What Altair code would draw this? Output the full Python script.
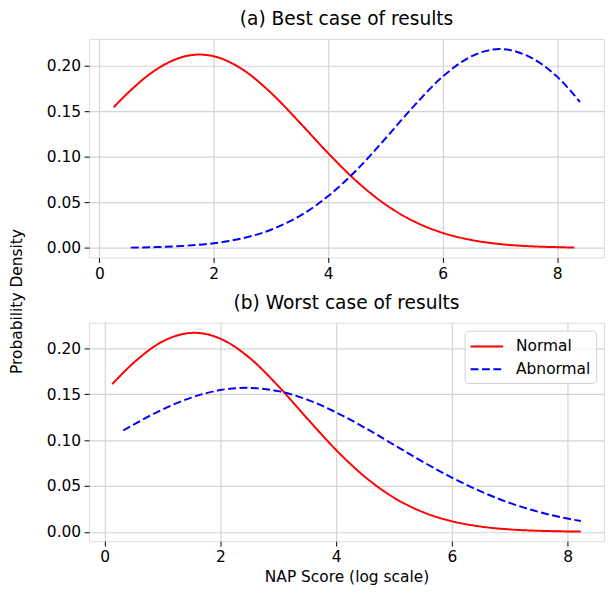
import altair as alt
import pandas as pd

FONT = "DejaVu Sans"

# Panel (a) Best case
a_normal_x = [0.25, 0.5, 1.0, 1.5, 1.75, 2.0, 2.5, 3.0, 3.5, 4.0, 4.5, 5.0, 5.5, 6.0, 6.5, 7.0, 7.5, 8.0, 8.3]
a_normal_y = [0.1543, 0.1700, 0.1958, 0.2101, 0.2120, 0.2101, 0.1958, 0.1700, 0.1376, 0.1038, 0.0729, 0.0477,
              0.0291, 0.0166, 0.0088, 0.0043, 0.0020, 0.0009, 0.0005]
a_abn_x = [0.55, 1.0, 1.5, 2.0, 2.5, 3.0, 3.5, 4.0, 4.5, 5.0, 5.5, 6.0, 6.5, 7.0, 7.5, 8.0, 8.4]
a_abn_y = [0.0004, 0.0010, 0.0024, 0.0052, 0.0106, 0.0200, 0.0350, 0.0569, 0.0857, 0.1200, 0.1558, 0.1878,
           0.2100, 0.2180, 0.2100, 0.1878, 0.1600]

# Panel (b) Worst case
b_normal_x = [0.13, 0.5, 1.0, 1.55, 2.0, 2.5, 3.0, 3.5, 4.0, 4.5, 5.0, 5.5, 6.0, 6.5, 7.0, 7.5, 8.0, 8.23]
b_normal_y = [0.1610, 0.1843, 0.2075, 0.2170, 0.2106, 0.1899, 0.1590, 0.1236, 0.0893, 0.0599, 0.0373, 0.0216,
              0.0116, 0.0058, 0.0027, 0.0012, 0.0005, 0.0003]
b_abn_x = [0.32, 0.5, 1.0, 1.5, 2.0, 2.45, 3.0, 3.5, 4.0, 4.5, 5.0, 5.5, 6.0, 6.5, 7.0, 7.5, 8.0, 8.23]
b_abn_y = [0.1105, 0.1169, 0.1334, 0.1464, 0.1546, 0.1570, 0.1534, 0.1442, 0.1303, 0.1134, 0.0949, 0.0764,
           0.0592, 0.0441, 0.0316, 0.0218, 0.0145, 0.0118]

series_names = ["Normal", "Abnormal"]
series_colors = ["#ff0000", "#0000ff"]
x_ticks = [0, 2, 4, 6, 8]
y_ticks = [0.0, 0.05, 0.10, 0.15, 0.20]


def frame(xs, ys, name):
    return pd.DataFrame({"x": xs, "y": ys, "series": name, "order": list(range(len(xs)))})


df_a = pd.concat([frame(a_normal_x, a_normal_y, "Normal"), frame(a_abn_x, a_abn_y, "Abnormal")])
df_b = pd.concat([frame(b_normal_x, b_normal_y, "Normal"), frame(b_abn_x, b_abn_y, "Abnormal")])

W = 521
H = 221


def panel(df, title, xdomain, ydomain, legend, xtitle, ytitle):
    axis_common = dict(
        grid=True, gridColor="#d4d4d4", gridWidth=1.2,
        tickColor="black", tickSize=5, tickWidth=1,
        labelFont=FONT, labelFontSize=15.6, labelColor="black",
        titleFont=FONT, titleFontSize=15.6, titleFontWeight="normal", titleColor="black",
        domain=False,
    )
    yaxis_kwargs = dict(axis_common)
    yaxis_kwargs.update(values=y_ticks, format=".2f", labelPadding=3.5)
    if ytitle:
        yaxis_kwargs.update(title=ytitle, titleX=-73, titleY=265, titleAngle=-90,
                            titleAlign="center", titleBaseline="middle")
    else:
        yaxis_kwargs.update(title=None)
    xaxis_kwargs = dict(axis_common)
    xaxis_kwargs.update(values=x_ticks, format="d", labelPadding=4, labelFlush=False)
    if xtitle:
        xaxis_kwargs.update(title=xtitle, titlePadding=4)
    else:
        xaxis_kwargs.update(title=None)

    if legend:
        leg = alt.Legend(title=None, orient="top-right", offset=8,
                         labelFont=FONT, labelFontSize=15.6, labelColor="black",
                         symbolType="M-1,0L2.3,0", symbolSize=400, symbolStrokeWidth=2,
                         fillColor="rgba(255,255,255,0.85)", strokeColor="#d0d0d0", cornerRadius=4,
                         padding=5, rowPadding=3, labelOffset=25)
    else:
        leg = None

    return alt.Chart(df).mark_line(strokeWidth=2, clip=True, interpolate="monotone").encode(
        x=alt.X("x:Q", scale=alt.Scale(domain=xdomain, nice=False, zero=False), axis=alt.Axis(**xaxis_kwargs)),
        y=alt.Y("y:Q", scale=alt.Scale(domain=ydomain, nice=False, zero=False), axis=alt.Axis(**yaxis_kwargs)),
        color=alt.Color("series:N", scale=alt.Scale(domain=series_names, range=series_colors), legend=leg),
        strokeDash=alt.StrokeDash("series:N", scale=alt.Scale(domain=series_names, range=[[1, 0], [8, 3.5]]),
                                  legend=leg),
        order="order:Q",
    ).properties(
        width=W, height=H,
        title=alt.TitleParams(title, font=FONT, fontSize=18.8, fontWeight="normal", color="black",
                              anchor="middle", frame="group", offset=10),
    )


top = panel(df_a, "(a) Best case of results", [-0.18, 8.82], [-0.0104, 0.229], False, None, "Probability Density")
bottom = panel(df_b, "(b) Worst case of results", [-0.27, 8.63], [-0.0101, 0.228], True, "NAP Score (log scale)", None)

chart = alt.vconcat(top, bottom, spacing=66, bounds="flush").resolve_scale(
    color="independent", strokeDash="independent"
).configure_view(stroke="black", strokeWidth=1).configure(padding={"left": 1, "top": -2, "right": 0, "bottom": 0})

chart.save("out.html", embed_options={"renderer": "svg", "actions": False})
